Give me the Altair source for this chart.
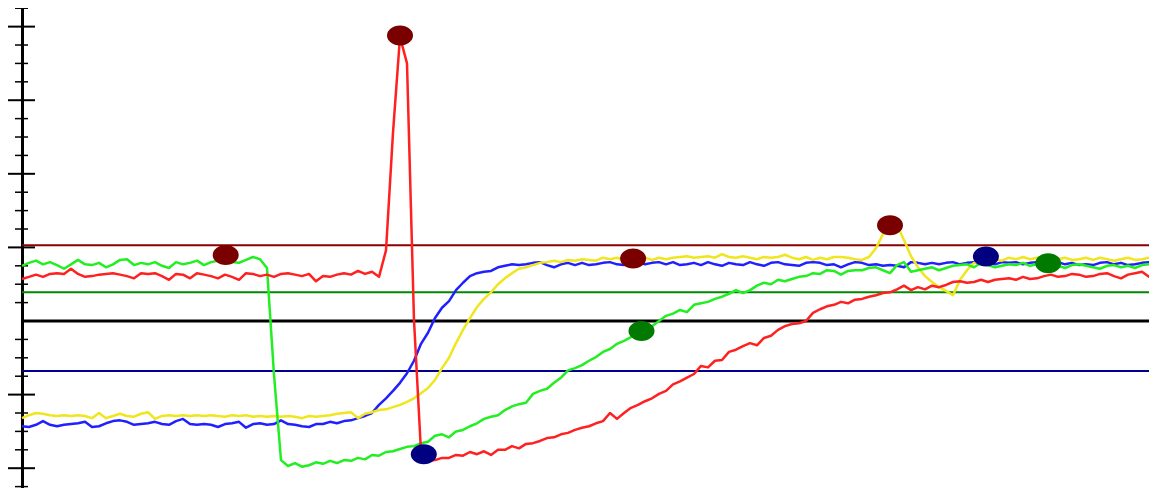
import altair as alt
import pandas as pd

# ---- series values (sample index on x, one value per sample) ----
red = [5.7,6.0,6.3,6.0,6.4,6.5,6.4,7.1,6.4,6.0,
       6.1,6.3,6.4,6.5,6.3,6.1,5.8,6.5,6.4,6.5,
       6.1,5.6,6.4,6.3,5.8,6.5,6.3,6.1,5.8,6.3,
       6.0,5.6,6.5,6.4,6.1,6.3,6.0,6.4,6.5,6.3,
       6.1,6.4,5.4,6.1,6.0,6.3,6.5,6.3,6.8,6.4,
       6.7,6.0,9.6,25.6,38.6,35.0,0.1,-17.8,-19.0,-18.9,
       -18.6,-18.6,-18.2,-18.3,-17.8,-18.1,-17.7,-18.2,-17.5,-17.5,
       -17.0,-17.3,-16.7,-16.6,-16.3,-15.9,-15.8,-15.4,-15.2,-14.8,
       -14.5,-14.3,-13.9,-13.6,-12.5,-13.3,-12.5,-11.8,-11.4,-10.9,
       -10.5,-9.9,-9.5,-8.6,-8.2,-7.7,-7.2,-6.1,-6.3,-5.4,
       -5.3,-4.2,-3.9,-3.4,-3.0,-3.3,-2.3,-2.0,-1.2,-0.7,
       -0.4,-0.3,0.0,1.1,1.6,2.0,2.2,2.6,2.4,2.9,
       3.0,3.3,3.5,3.8,3.9,4.3,4.8,4.2,4.6,4.3,
       4.8,4.6,4.9,5.3,5.4,5.2,5.3,5.6,5.3,5.6,
       5.7,5.8,5.6,6.0,5.7,5.8,6.1,6.3,6.0,6.1,
       6.4,6.3,6.0,6.1,6.4,6.5,6.1,5.8,6.3,6.5,
       6.7,6.0,6.3]

green = [7.5,7.9,8.2,7.7,8.0,7.6,7.1,7.7,8.3,7.7,
         7.6,7.9,7.3,7.7,8.3,8.4,7.6,7.9,7.7,8.0,
         7.5,7.2,8.0,7.7,7.9,8.2,7.6,8.0,8.2,8.3,
         8.0,7.9,8.3,8.7,8.4,7.2,-7.3,-18.9,-19.7,-19.3,
         -19.8,-19.6,-19.2,-19.4,-19.0,-19.3,-18.9,-19.0,-18.6,-18.8,
         -18.2,-18.3,-17.8,-17.7,-17.4,-17.1,-17.0,-16.6,-16.4,-15.6,
         -15.4,-15.8,-15.0,-14.8,-14.3,-13.9,-13.3,-13.0,-12.8,-12.1,
         -11.6,-11.3,-11.1,-9.9,-9.5,-9.2,-8.4,-7.7,-6.7,-6.4,
         -6.0,-5.4,-4.9,-4.2,-3.8,-3.1,-2.7,-2.2,-1.6,-1.2,
         -0.7,0.0,0.7,1.0,1.5,1.2,2.2,2.4,2.6,3.0,
         3.3,3.7,4.2,3.8,4.2,4.8,5.2,5.0,5.6,5.4,
         5.7,6.0,6.1,6.5,6.4,6.9,6.8,6.3,6.8,6.9,
         6.9,7.2,7.3,6.9,6.5,7.6,8.0,6.7,6.9,7.1,
         7.3,6.9,7.2,7.5,7.6,7.7,7.3,7.9,7.6,7.3,
         7.5,7.7,7.6,7.9,7.5,7.7,7.3,7.6,7.5,7.2,
         7.6,7.7,7.5,7.3,7.1,7.5,7.6,7.3,7.5,7.2,
         7.6,7.7,7.6]

blue = [-14.3,-14.4,-14.1,-13.6,-14.1,-14.3,-14.1,-14.0,-13.9,-13.7,
        -14.4,-14.3,-13.9,-13.6,-13.5,-13.7,-14.1,-14.0,-13.9,-13.7,
        -14.0,-14.1,-13.6,-13.3,-14.0,-14.1,-14.0,-14.1,-14.4,-14.0,
        -13.9,-13.7,-14.5,-14.0,-13.9,-14.1,-14.0,-13.5,-14.0,-14.1,
        -14.3,-14.4,-14.0,-14.0,-13.7,-13.9,-13.6,-13.5,-13.2,-12.9,
        -12.5,-11.4,-10.5,-9.5,-8.4,-7.1,-5.4,-3.1,-1.6,0.4,
        1.8,2.7,4.2,5.2,6.1,6.5,6.7,6.8,7.3,7.5,
        7.7,7.6,7.7,7.9,8.0,7.6,7.3,7.7,7.9,7.6,
        7.9,7.6,7.7,7.9,8.0,7.7,7.6,7.9,8.0,7.7,
        7.9,8.0,7.7,8.0,7.6,7.7,7.9,7.6,8.0,7.7,
        7.5,7.9,7.7,7.6,8.0,7.7,7.5,7.9,8.0,7.7,
        7.6,7.5,7.9,8.0,7.9,7.6,7.7,7.3,7.7,8.0,
        7.9,7.6,7.7,7.5,7.6,7.5,7.3,8.0,7.9,7.7,
        7.9,7.7,7.9,8.0,7.7,7.9,8.0,7.9,8.0,7.7,
        8.0,7.9,8.0,7.7,7.9,8.0,7.7,7.9,8.0,7.7,
        7.9,7.6,7.7,7.6,7.9,8.0,7.7,7.9,7.6,7.7,
        7.9,8.0,7.9]

yellow = [-13.2,-12.8,-12.5,-12.6,-12.8,-12.9,-12.8,-12.9,-12.8,-12.9,
          -13.2,-12.5,-13.2,-12.9,-12.6,-12.9,-13.0,-12.6,-12.4,-13.3,
          -12.9,-12.8,-12.9,-12.8,-12.9,-12.8,-12.9,-12.8,-12.9,-13.0,
          -12.8,-12.9,-12.8,-13.0,-12.9,-13.0,-12.9,-13.0,-12.9,-13.0,
          -13.2,-12.9,-13.0,-12.9,-12.8,-12.6,-12.5,-12.4,-13.2,-12.6,
          -12.4,-12.1,-12.0,-11.7,-11.4,-11.0,-10.5,-9.8,-9.1,-8.0,
          -6.4,-5.0,-3.0,-1.2,0.4,1.9,3.0,3.9,5.0,5.8,
          6.5,7.1,7.3,7.6,7.9,8.0,8.2,8.0,8.3,8.2,
          8.4,8.3,8.2,8.6,8.4,8.6,8.3,8.6,8.4,8.6,
          8.3,8.6,8.4,8.6,8.7,8.8,8.6,8.7,8.8,8.6,
          9.1,8.7,8.6,8.8,8.6,8.4,8.7,8.6,8.7,9.0,
          8.6,8.4,8.7,8.3,8.6,8.4,8.7,8.7,8.6,8.4,
          8.3,8.7,9.9,11.8,13.3,13.0,11.0,8.8,7.3,6.1,
          5.3,4.6,4.1,3.5,5.6,6.9,7.9,8.2,8.3,8.4,
          8.2,8.6,8.4,8.7,8.4,8.6,8.8,8.6,8.4,8.6,
          8.3,8.4,8.6,8.3,8.6,8.4,8.2,8.4,8.6,8.3,
          8.4,8.6,8.4]

# ---- marker dots ----
max_t = [29.1, 54.0, 87.3, 124.0]
max_v = [8.97, 38.8, 8.49, 13.0]
min_t = [57.4, 137.7]
min_v = [-18.1, 8.76]
mid_t = [88.5, 146.6]
mid_v = [-1.36, 7.84]

# ---- reference levels ----
upper_level = [10.3]
middle_level = [3.9]
lower_level = [-6.8]
zero_level = [0]

# ---- axis ticks ----
major_ticks = [-20, -10, 10, 20, 30, 40]
minor_ticks = [-22.5, -17.5, -15, -12.5, -7.5, -5, -2.5, 2.5, 5, 7.5,
               12.5, 15, 17.5, 22.5, 25, 27.5, 32.5, 35, 37.5, 42.5]

W, H = 1127, 480
xscale = alt.Scale(domain=[0, 161], nice=False, zero=False)
yscale = alt.Scale(domain=[-22.69, 42.53], nice=False, zero=False)
yaxis = alt.Axis(labels=False, ticks=False, grid=False, title=None,
                 domainColor="black", domainWidth=3)


def X(field):
    return alt.X(field, type="quantitative", scale=xscale, axis=None)


def Y(field):
    return alt.Y(field, type="quantitative", scale=yscale, axis=yaxis)


def series_layer(vals, color):
    df = pd.DataFrame({"t": list(range(len(vals))), "v": vals})
    return alt.Chart(df).mark_line(color=color, strokeWidth=2.5,
                                   strokeJoin="round").encode(x=X("t"), y=Y("v"))


def level_layer(vals, color, width):
    df = pd.DataFrame({"lv": vals})
    return alt.Chart(df).mark_rule(color=color, strokeWidth=width).encode(y=Y("lv"))


def tick_layer(vals, x0, x1, width):
    df = pd.DataFrame({"tk": vals})
    return alt.Chart(df).mark_rule(color="black", strokeWidth=width).encode(
        y=Y("tk"), x=alt.value(x0), x2=alt.value(x1))


ellipse = ("M -1.3 0 C -1.3 -0.5523 -0.718 -1 0 -1 C 0.718 -1 1.3 -0.5523 1.3 0 "
           "C 1.3 0.5523 0.718 1 0 1 C -0.718 1 -1.3 0.5523 -1.3 0 Z")


def dot_layer(ts, vs, color):
    df = pd.DataFrame({"dt": ts, "dv": vs})
    return alt.Chart(df).mark_point(shape=ellipse, size=400, filled=True,
                                    opacity=1, color=color, strokeWidth=0).encode(
        x=X("dt"), y=Y("dv"))


chart = alt.layer(
    level_layer(upper_level, "#8b0000", 2),
    level_layer(middle_level, "#008800", 2),
    level_layer(lower_level, "#00008b", 2),
    level_layer(zero_level, "black", 3),
    tick_layer(major_ticks, -14, 13, 2),
    tick_layer(minor_ticks, -7, 6, 1.5),
    series_layer(blue, "#2020ff"),
    series_layer(yellow, "#f0e61e"),
    series_layer(green, "#22ee22"),
    series_layer(red, "#ff2020"),
    dot_layer(max_t, max_v, "#7a0000"),
    dot_layer(min_t, min_v, "#000080"),
    dot_layer(mid_t, mid_v, "#007a00"),
).properties(
    width=W, height=H,
    autosize=alt.AutoSizeParams(type="none"),
    padding={"left": 14, "top": 0, "right": 0, "bottom": 0},
    background="white",
).configure_view(stroke=None)

chart.save("out.html", embed_options={"renderer": "svg", "actions": False})
